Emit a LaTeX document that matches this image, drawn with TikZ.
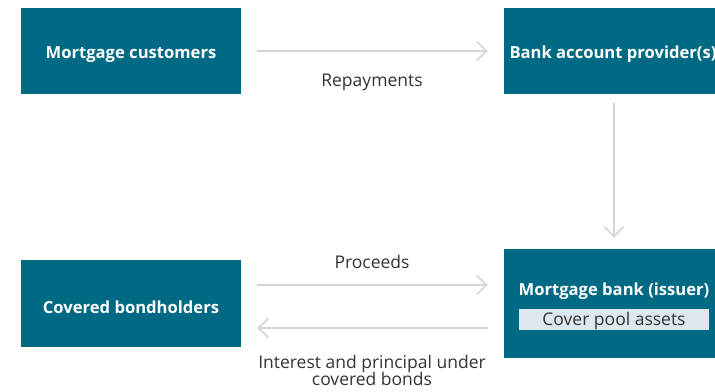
\documentclass[tikz,border=0pt]{standalone}
\usepackage{fontspec}
\setmainfont{Open Sans}
\usetikzlibrary{arrows.meta}
\definecolor{boxteal}{HTML}{006A84}
\definecolor{poolfill}{HTML}{DCE8EE}
\definecolor{flowgrey}{HTML}{D4D4D4}
\definecolor{labelgrey}{HTML}{333333}
\begin{document}
\begin{tikzpicture}[x=1pt,y=-1pt,
  party/.style={fill=boxteal, draw=none, minimum width=220pt, inner sep=0pt},
  partyname/.style={anchor=base, text=white, inner sep=0pt,
    font=\fontsize{16.6}{20}\selectfont\bfseries},
  pool/.style={fill=poolfill, draw=none, minimum width=190pt, minimum height=21pt, inner sep=0pt},
  flow/.style={draw=flowgrey, line width=1.6pt,
    -{Straight Barb[length=10pt,width=19pt,line width=1.6pt]}},
  flowlabel/.style={anchor=base, text=labelgrey, inner sep=0pt,
    font=\fontsize{17.5}{20}\selectfont}]
\useasboundingbox (0,0) rectangle (715,391);
\clip (0,0) rectangle (715,391);

% parties
\node[party, minimum height=86pt] (cust) at (131,51) {};
\node[party, minimum height=86pt] (bap) at (614,51) {};
\node[party, minimum height=87pt] (holders) at (131,303.5) {};
\node[party, minimum height=109pt] (issuer) at (614,303.5) {};
\node[pool] (assets) at (614,319.5) {};

% party names
\node[partyname] (custname) at (131,58) {Mortgage customers};
\node[partyname] (bapname) at (613,58.5) {Bank account provider(s)};
\node[partyname] (holdersname) at (131,313) {Covered bondholders};
\node[partyname] (issuername) at (614,295) {Mortgage bank (issuer)};
\node[flowlabel] (assetsname) at (614,325) {Cover pool assets};

% cash flows
\draw[flow, shorten <=16pt, shorten >=16pt] (cust.east) -- (bap.west);
\draw[flow, shorten <=9pt, shorten >=11pt] (bap.south) -- (issuer.north);
\draw[flow, shorten <=16pt, shorten >=16pt] ([yshift=18.5pt]holders.east) -- ([yshift=18.5pt]issuer.west);
\draw[flow, shorten <=16pt, shorten >=16pt] ([yshift=-24.5pt]issuer.west) -- ([yshift=-24.5pt]holders.east);

% flow labels
\node[flowlabel] (lrepay) at (372,86) {Repayments};
\node[flowlabel] (lproc) at (372,268) {Proceeds};
\node[flowlabel] (lint1) at (372,368) {Interest and principal under};
\node[flowlabel] (lint2) at (372,385) {covered bonds};
\end{tikzpicture}
\end{document}
